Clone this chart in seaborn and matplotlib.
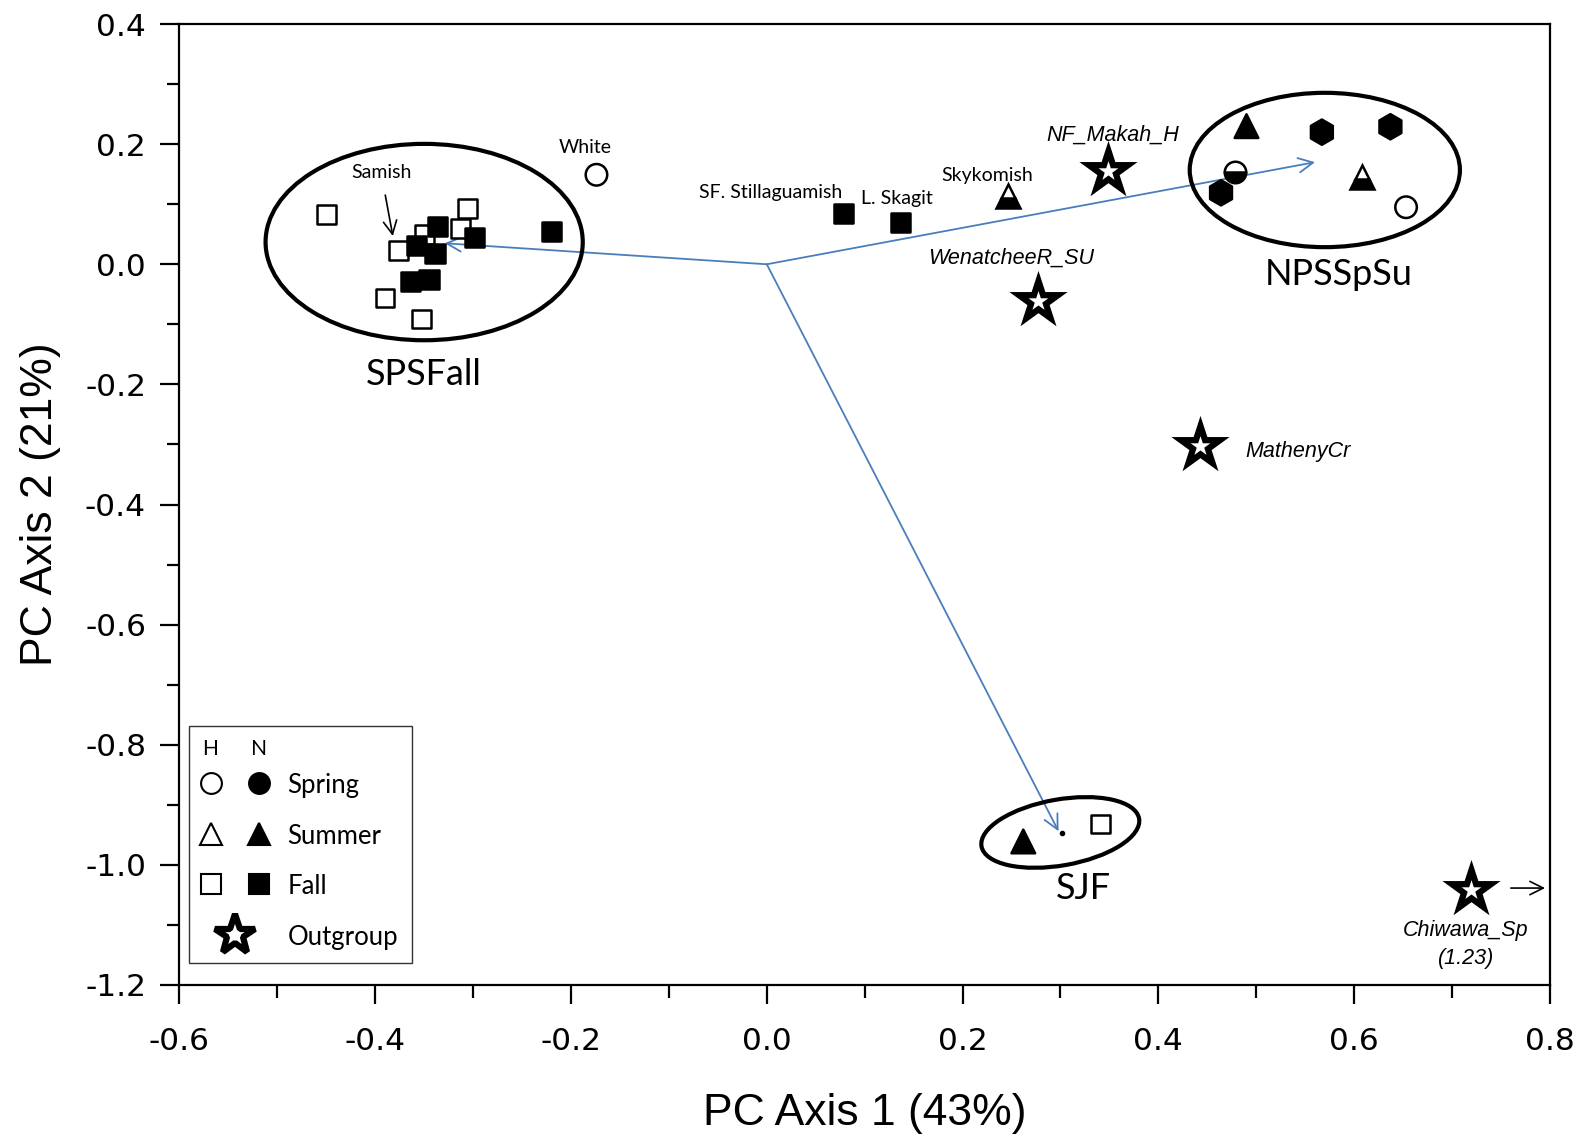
import numpy as np
import pandas as pd
import matplotlib
matplotlib.use("Agg")
import matplotlib.pyplot as plt
import seaborn as sns
from matplotlib.lines import Line2D
from matplotlib.patches import Ellipse
from matplotlib.transforms import ScaledTranslation
from matplotlib.legend_handler import HandlerTuple
from matplotlib.ticker import MultipleLocator, FormatStrFormatter

# hatchery (open) and natural (filled) populations, PC1 / PC2 scores
h_spring_x = [-0.174, 0.653]
h_spring_y = [0.149, 0.095]
h_fall_x = [-0.450, -0.306, -0.313, -0.350, -0.376, -0.390, -0.353, 0.341]
h_fall_y = [0.083, 0.093, 0.060, 0.049, 0.023, -0.056, -0.091, -0.932]
n_spring_x = [0.567, 0.637, 0.464]
n_spring_y = [0.220, 0.229, 0.119]
n_summer_x = [0.490, 0.262]
n_summer_y = [0.230, -0.961]
n_fall_x = [-0.336, -0.299, -0.358, -0.339, -0.364, -0.345, -0.220, 0.078, 0.137]
n_fall_y = [0.063, 0.044, 0.031, 0.018, -0.028, -0.026, 0.054, 0.085, 0.069]

# mixed hatchery/natural (half filled)
mix_spring_x = [0.478]
mix_spring_y = [0.153]
mix_summer_x = [0.246, 0.608]
mix_summer_y = [0.113, 0.145]

# outgroups
out_names = ['NF_Makah_H', 'WenatcheeR_SU', 'MathenyCr', 'Chiwawa_Sp']
out_x = [0.349, 0.277, 0.443, 0.719]
out_y = [0.155, -0.061, -0.302, -1.042]

# group centroids (blue vectors from the origin)
group_names = ['SPSFall', 'NPSSpSu', 'SJF']
group_x = [-0.329, 0.560, 0.298]
group_y = [0.035, 0.170, -0.944]

BLUE = '#4a7ebb'
SANS = 'Liberation Sans'
CAL = 'Lato'


def main():
    sns.set_style('ticks')
    plt.rcParams['font.family'] = [SANS, 'DejaVu Sans']
    plt.rcParams.update({'axes.unicode_minus': False, 'text.color': 'black',
                         'axes.labelcolor': 'black', 'xtick.color': 'black',
                         'ytick.color': 'black', 'axes.edgecolor': 'black'})

    fig = plt.figure(figsize=(15.85, 11.34), dpi=100)
    ax = fig.add_axes([0.1132, 0.1314, 0.8647, 0.8474])

    kinds = (['H Spring'] * len(h_spring_x) + ['H Fall'] * len(h_fall_x)
             + ['N Spring'] * len(n_spring_x) + ['N Summer'] * len(n_summer_x)
             + ['N Fall'] * len(n_fall_x))
    df = pd.DataFrame({
        'pc1': h_spring_x + h_fall_x + n_spring_x + n_summer_x + n_fall_x,
        'pc2': h_spring_y + h_fall_y + n_spring_y + n_summer_y + n_fall_y,
        'kind': kinds,
    })
    markers = {'H Spring': 'o', 'H Fall': 's', 'N Spring': 'h', 'N Summer': '^', 'N Fall': 's'}
    palette = {'H Spring': 'white', 'H Fall': 'white', 'N Spring': 'black',
               'N Summer': 'black', 'N Fall': 'black'}
    sizes = {'H Spring': 240, 'H Fall': 182, 'N Spring': 330, 'N Summer': 290, 'N Fall': 190}

    # blue vectors
    for gx, gy in zip(group_x, group_y):
        ax.annotate('', xy=(gx, gy), xytext=(0, 0),
                    arrowprops=dict(arrowstyle='->', color=BLUE, lw=1.3,
                                    shrinkA=0, shrinkB=0, mutation_scale=26), zorder=2)

    sns.scatterplot(data=df, x='pc1', y='pc2', hue='kind', style='kind', size='kind',
                    markers=markers, palette=palette, sizes=sizes,
                    edgecolor='black', linewidth=1.8, legend=False, ax=ax, zorder=3)

    ax.plot(mix_spring_x, mix_spring_y, ls='none', marker='o', ms=15.5, fillstyle='bottom',
            mfc='black', mfcalt='white', mec='black', mew=1.8, zorder=4)
    ax.plot(mix_summer_x, mix_summer_y, ls='none', marker='^', ms=17, fillstyle='bottom',
            mfc='black', mfcalt='white', mec='black', mew=1.8, zorder=4)

    sns.scatterplot(x=out_x, y=out_y, marker='*', s=870, color='white',
                    edgecolor='black', linewidth=4.5, legend=False, ax=ax, zorder=4)
    ax.collections[-1].set_joinstyle('miter')

    # cluster ellipses
    ax.add_patch(Ellipse((-0.350, 0.037), 0.324, 0.327, fill=False, lw=3, ec='black', zorder=2))
    ax.add_patch(Ellipse((0.570, 0.157), 0.276, 0.257, fill=False, lw=3, ec='black', zorder=2))
    trans = fig.dpi_scale_trans + ScaledTranslation(0.2998, -0.946, ax.transData)
    ax.add_patch(Ellipse((0, 0), 1.6, 0.66, angle=10, fill=False, lw=3, ec='black',
                         transform=trans, zorder=2))
    ax.plot([0.302], [-0.947], ls='none', marker='o', ms=3, color='black', zorder=3)

    # labels
    ax.text(-0.3505, -0.184, 'SPSFall', family=CAL, fontsize=26, ha='center', va='center')
    ax.text(0.584, -0.017, 'NPSSpSu', family=CAL, fontsize=26, ha='center', va='center')
    ax.text(0.323, -1.040, 'SJF', family=CAL, fontsize=26, ha='center', va='center')

    ax.text(-0.185, 0.195, 'White', family=CAL, fontsize=14, ha='center', va='center')
    ax.text(0.004, 0.119, 'SF. Stillaguamish', family=CAL, fontsize=14, ha='center', va='center')
    ax.text(0.133, 0.110, 'L. Skagit', family=CAL, fontsize=14, ha='center', va='center')
    ax.text(0.225, 0.1475, 'Skykomish', family=CAL, fontsize=14, ha='center', va='center')
    ax.annotate('Samish', xy=(-0.382, 0.047), xytext=(-0.394, 0.153), family=CAL, fontsize=14,
                ha='center', va='center',
                arrowprops=dict(arrowstyle='->', color='black', lw=1.2, shrinkA=8, shrinkB=0,
                                mutation_scale=24))

    ax.text(0.353, 0.215, out_names[0], style='italic', fontsize=15.5, ha='center', va='center')
    ax.text(0.250, 0.010, out_names[1], style='italic', fontsize=15.5, ha='center', va='center')
    ax.text(0.489, -0.312, out_names[2], style='italic', fontsize=15.5, ha='left', va='center')
    ax.text(0.714, -1.109, out_names[3], style='italic', fontsize=15.5, ha='center', va='center')
    ax.text(0.714, -1.156, '(1.23)', style='italic', fontsize=15.5, ha='center', va='center')
    ax.annotate('', xy=(0.795, -1.0386), xytext=(0.760, -1.0386),
                arrowprops=dict(arrowstyle='->', color='black', lw=1.2, shrinkA=0, shrinkB=0,
                                mutation_scale=24))

    # axes
    ax.set_xlim(-0.6, 0.8)
    ax.set_ylim(-1.2, 0.4)
    ax.xaxis.set_major_locator(MultipleLocator(0.2))
    ax.xaxis.set_minor_locator(MultipleLocator(0.1))
    ax.yaxis.set_major_locator(MultipleLocator(0.2))
    ax.yaxis.set_minor_locator(MultipleLocator(0.1))
    ax.xaxis.set_major_formatter(FormatStrFormatter('%.1f'))
    ax.yaxis.set_major_formatter(FormatStrFormatter('%.1f'))
    ax.tick_params(which='major', direction='out', length=14, width=1.6, labelsize=22.5,
                   colors='black')
    ax.tick_params(axis='x', which='major', pad=16)
    ax.tick_params(axis='y', which='major', pad=10)
    ax.tick_params(which='minor', direction='out', length=9, width=1.6)
    for lab in ax.get_xticklabels() + ax.get_yticklabels():
        lab.set_family('DejaVu Sans')
    for sp in ax.spines.values():
        sp.set_visible(True)
        sp.set_linewidth(1.6)
        sp.set_color('black')
    ax.set_xlabel('PC Axis 1 (43%)', fontsize=32, labelpad=27)
    ax.set_ylabel('PC Axis 2 (21%)', fontsize=32, labelpad=17)

    # legend: open = H, filled = N
    def mk(m, fc, ms, mew=1.5):
        return Line2D([], [], ls='none', marker=m, ms=ms, mfc=fc, mec='black', mew=mew)

    handles = [(mk('o', 'white', 15), mk('o', 'black', 15)),
               (mk('^', 'white', 16), mk('^', 'black', 16)),
               (mk('s', 'white', 14), mk('s', 'black', 14)),
               mk('*', 'white', 30, 4.5)]
    labels = ['Spring', 'Summer', 'Fall', 'Outgroup']
    leg = ax.legend(handles, labels, handler_map={tuple: HandlerTuple(ndivide=None, pad=1.26)},
                    loc='lower left', bbox_to_anchor=(0.0073, 0.0225), borderaxespad=0,
                    prop={'family': CAL, 'size': 18.5}, title='H      N',
                    title_fontproperties={'family': CAL, 'size': 15}, alignment='left',
                    handlelength=2.5, handletextpad=0.79, borderpad=0.53, labelspacing=0.98,
                    handleheight=1.0, frameon=True, fancybox=False, edgecolor='black')
    leg.get_frame().set_linewidth(1.0)
    leg._legend_box.sep = 10

    fig.savefig('out.png', dpi=100)


if __name__ == "__main__":
    main()
